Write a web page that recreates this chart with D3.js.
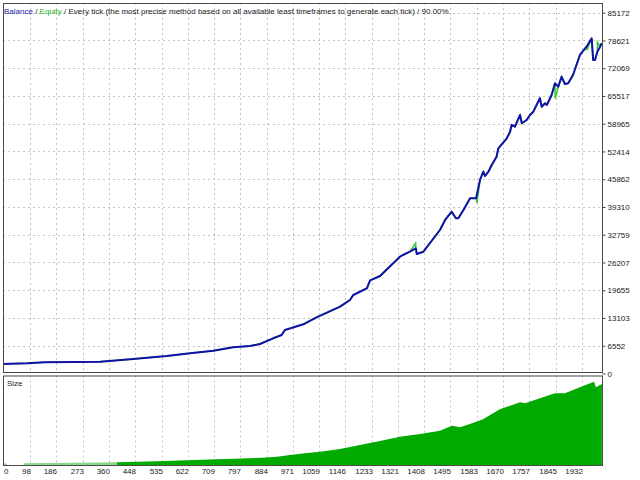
<!DOCTYPE html>
<html>
<head>
<meta charset="utf-8">
<script src="https://cdn.jsdelivr.net/npm/d3@7"></script>
<style>
  body { margin: 0; background: #fff; }
  svg { display: block; font-family: "Liberation Sans", Arial, sans-serif; }
</style>
</head>
<body>
<svg width="640" height="480"></svg>
<script>
// Tick labels
const tradeTicks = [0, 98, 186, 273, 360, 448, 535, 622, 709, 797, 884, 971, 1059,
                    1146, 1233, 1321, 1408, 1495, 1583, 1670, 1757, 1845, 1932];
const balanceTicks = [0, 6552, 13103, 19655, 26207, 32759, 39310, 45862,
                      52414, 58965, 65517, 72069, 78621, 85172];

// Balance curve (trade number / account balance)
const balanceTrades = [0, 88, 148, 331, 441, 552, 630, 707, 773, 829, 862, 906, 934, 945,
  1006, 1050, 1128, 1161, 1172, 1217, 1228, 1261, 1327, 1337, 1360, 1380, 1383, 1405,
  1460, 1477, 1499, 1513, 1521, 1538, 1560, 1580, 1593, 1604, 1610, 1621, 1632, 1648,
  1654, 1682, 1693, 1698, 1709, 1726, 1732, 1748, 1759, 1770, 1792, 1798, 1809, 1815,
  1831, 1842, 1853, 1864, 1875, 1886, 1902, 1925, 1947, 1964, 1969, 1975, 1983, 1992, 1997];
const balance = [2243, 2408, 2644, 2786, 3423, 4131, 4769, 5382, 6185, 6492, 6964, 8310,
  9089, 10269, 11614, 13267, 15769, 17350, 18531, 20113, 22000, 23017, 27573, 27974,
  28753, 29556, 28210, 28753, 33876, 36237, 38196, 36638, 36638, 38597, 41359, 41359,
  45680, 47639, 46624, 47639, 49221, 51180, 53163, 55524, 57082, 58664, 58262, 61024,
  59065, 59844, 61024, 61803, 64966, 62983, 63786, 63385, 65745, 68507, 67705, 70065,
  68342, 68507, 70467, 75188, 77148, 79130, 74007, 74007, 75967, 77148, 77951];

// Equity only shows where it leaves the balance line
const equityTrades = [1379, 1583, 1843, 1948, 1983];
const equity = [30700, 40300, 64900, 76300, 78200];

// Lot size per trade
const sizeTrades = [0, 20, 21, 77, 78, 387, 523, 620, 719, 779, 869, 919, 962, 1012, 1061,
  1128, 1194, 1261, 1327, 1394, 1460, 1500, 1527, 1576, 1603, 1659, 1726, 1743, 1792,
  1842, 1875, 1925, 1972, 1978, 1998];
const size = [0.25, 0.25, 0, 0, 0.27, 0.37, 0.47, 0.57, 0.67, 0.73, 0.83, 0.93, 1.10,
  1.27, 1.43, 1.70, 2.10, 2.50, 2.93, 3.20, 3.53, 4.03, 3.87, 4.37, 4.67, 5.67, 6.37,
  6.27, 6.77, 7.27, 7.27, 7.87, 8.43, 7.87, 8.20];

// Panel boxes
const left = 3, right = 603;
const main = { top: 3, bottom: 373 };
const sub = { top: 375.5, bottom: 466 };

const svg = d3.select("svg");
const gridColor = "#c4c4c4";
const borderColor = "#4a4a4a";

// Scales
const x = d3.scaleLinear().domain([0, 2000]).range([0.5, 602.5]);
const y = d3.scaleLinear().domain([0, 85172]).range([373.5, 12.7]);
const ySize = d3.scaleLinear().domain([0, 8.9]).range([sub.bottom, 377]);

// Clip paths for both panels
const defs = svg.append("defs");
defs.append("clipPath").attr("id", "clipMain")
  .append("rect").attr("x", left).attr("y", main.top)
  .attr("width", right - left).attr("height", main.bottom - main.top);
defs.append("clipPath").attr("id", "clipSub")
  .append("rect").attr("x", left).attr("y", sub.top)
  .attr("width", right - left).attr("height", sub.bottom - sub.top);

// Lighter green for the thin early part of the size histogram
const grad = defs.append("linearGradient").attr("id", "sizeFill")
  .attr("gradientUnits", "userSpaceOnUse")
  .attr("x1", 0).attr("x2", 640).attr("y1", 0).attr("y2", 0);
const cut = x(387) / 640;
grad.append("stop").attr("offset", 0).attr("stop-color", "#8ad88a");
grad.append("stop").attr("offset", cut).attr("stop-color", "#8ad88a");
grad.append("stop").attr("offset", cut).attr("stop-color", "#00aa00");
grad.append("stop").attr("offset", 1).attr("stop-color", "#00aa00");

// Vertical grid lines in both panels
const vTicks = tradeTicks.filter(t => t > 0);
[main, sub].forEach(p => {
  svg.append("g").selectAll("line").data(vTicks).join("line")
    .attr("x1", d => Math.round(x(d)) + 0.5).attr("x2", d => Math.round(x(d)) + 0.5)
    .attr("y1", p.top).attr("y2", p.bottom)
    .attr("stroke", gridColor).attr("stroke-dasharray", "2,3");
});

// Horizontal grid lines in the balance panel
svg.append("g").selectAll("line").data(balanceTicks.filter(v => v > 0)).join("line")
  .attr("x1", left).attr("x2", right)
  .attr("y1", d => Math.round(y(d)) + 0.5).attr("y2", d => Math.round(y(d)) + 0.5)
  .attr("stroke", gridColor).attr("stroke-dasharray", "2,3");

// Size area
const area = d3.area()
  .x(d => x(d[0]))
  .y0(ySize(0))
  .y1(d => ySize(d[1]));

svg.append("path")
  .datum(d3.zip(sizeTrades, size))
  .attr("clip-path", "url(#clipSub)")
  .attr("fill", "url(#sizeFill)")
  .attr("d", area);

// Equity line (merged with balance points), drawn under balance
const balancePts = d3.zip(balanceTrades, balance);
const equityPts = balancePts.concat(d3.zip(equityTrades, equity))
  .sort((a, b) => a[0] - b[0]);

const line = d3.line()
  .x(d => x(d[0]))
  .y(d => y(d[1]));

svg.append("path")
  .datum(equityPts)
  .attr("clip-path", "url(#clipMain)")
  .attr("fill", "none")
  .attr("stroke", "#3cc83c")
  .attr("stroke-width", 1.6)
  .attr("d", line);

svg.append("path")
  .datum(balancePts)
  .attr("clip-path", "url(#clipMain)")
  .attr("fill", "none")
  .attr("stroke", "#1212aa")
  .attr("stroke-width", 2)
  .attr("stroke-linejoin", "round")
  .attr("d", line);

// Panel borders
[main, sub].forEach(p => {
  svg.append("rect")
    .attr("x", left + 0.5).attr("y", p.top + 0.5)
    .attr("width", right - left - 1).attr("height", p.bottom - p.top - 1)
    .attr("fill", "none").attr("stroke", borderColor);
});

// Right axis with balance labels
svg.append("g")
  .attr("transform", `translate(${right - 0.5},0)`)
  .call(d3.axisRight(y).tickValues(balanceTicks).tickSize(3).tickPadding(2)
    .tickFormat(d => d))
  .call(g => g.select(".domain").remove())
  .call(g => g.selectAll(".tick line").attr("stroke", borderColor))
  .call(g => g.selectAll(".tick text")
    .attr("fill", "#1a1a1a").style("font-size", "8px")
    .style("font-family", "'Liberation Sans', Arial, sans-serif"));

// Bottom trade-number labels, drawn to the left of each grid line
svg.append("g").selectAll("text").data(tradeTicks).join("text")
  .attr("x", d => d === 0 ? left + 1 : Math.round(x(d)) + 1)
  .attr("y", 474)
  .attr("text-anchor", d => d === 0 ? "start" : "end")
  .attr("fill", "#1a1a1a")
  .style("font-size", "8px")
  .text(d => d);

// Header line
const header = svg.append("text")
  .attr("x", 4).attr("y", 13.5)
  .style("font-size", "8px")
  .attr("fill", "#1a1a1a");
header.append("tspan").attr("fill", "#1a1aa8").text("Balance");
header.append("tspan").text(" / ");
header.append("tspan").attr("fill", "#22b422").text("Equity");
header.append("tspan")
  .text(" / Every tick (the most precise method based on all available least timeframes to generate each tick) / 90.00%");

// Sub-panel caption
svg.append("text")
  .attr("x", 7).attr("y", 385.5)
  .style("font-size", "8px")
  .attr("fill", "#1a1a1a")
  .text("Size");
</script>
</body>
</html>
